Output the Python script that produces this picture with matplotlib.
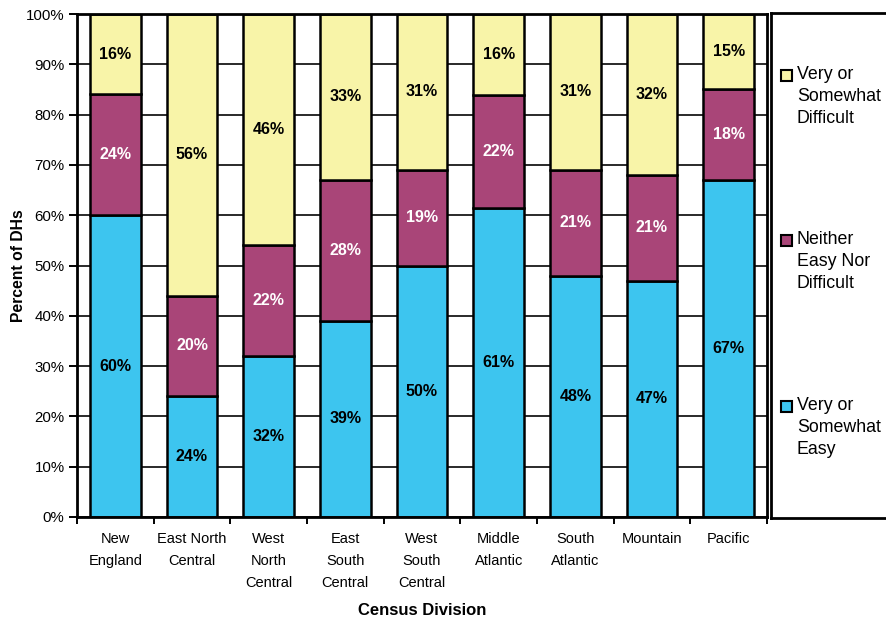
import numpy as np
from matplotlib import pyplot as plt
from matplotlib.patches import Rectangle

divisions = ['New\nEngland', 'East North\nCentral', 'West\nNorth\nCentral', 'East\nSouth\nCentral',
             'West\nSouth\nCentral', 'Middle\nAtlantic', 'South\nAtlantic', 'Mountain', 'Pacific']
easy = [60, 24, 32, 39, 50, 61.4, 48, 47, 67]
neither = [24, 20, 22, 28, 19, 22.4, 21, 21, 18]
difficult = [16, 56, 46, 33, 31, 16.2, 31, 32, 15]

series_names = ['Very or\nSomewhat\nEasy', 'Neither\nEasy Nor\nDifficult', 'Very or\nSomewhat\nDifficult']
colors = ['#3DC5EF', '#A94578', '#F8F4A8']
text_colors = ['black', 'white', 'black']

plt.rcParams['font.family'] = ['Liberation Sans', 'DejaVu Sans']

W, H = 887, 622
fig = plt.figure(figsize=(W / 100, H / 100), dpi=100)
ax = fig.add_axes([77 / W, 1 - 517 / H, 690 / W, 503 / H])

x = np.arange(len(divisions))
width = 0.66
bottom = np.zeros(len(divisions))
for vals, color, tcolor in zip([easy, neither, difficult], colors, text_colors):
    vals = np.array(vals)
    ax.bar(x, vals, width, bottom=bottom, color=color, edgecolor='black', linewidth=1.8, zorder=3)
    for xi, b, v in zip(x, bottom, vals):
        ax.text(xi, b + v / 2, '%d%%' % round(v), ha='center', va='center',
                fontsize=11.5, fontweight='bold', color=tcolor, zorder=4)
    bottom += vals

ax.set_xlim(-0.5, len(divisions) - 0.5)
ax.set_ylim(0, 100)
ax.set_yticks(np.arange(0, 101, 10))
ax.set_yticklabels(['%d%%' % v for v in range(0, 101, 10)], fontsize=10.8)
ax.yaxis.grid(True, color='#2a2a2a', linewidth=1.4, zorder=0)
ax.tick_params(axis='y', length=6, width=1.4, pad=3)

ax.set_xticks(x)
ax.set_xticklabels(divisions, fontsize=10.5, linespacing=1.7, va='top')
ax.set_xticks(np.arange(-0.5, len(divisions), 1), minor=True)
ax.tick_params(axis='x', which='major', length=0, pad=11)
ax.tick_params(axis='x', which='minor', length=5, width=1.4)

for spine in ax.spines.values():
    spine.set_linewidth(2)
    spine.set_zorder(5)

ax.set_ylabel('Percent of DHs', fontsize=11.3, fontweight='bold')
ax.yaxis.set_label_coords(-0.074, 0.5)
ax.set_xlabel('Census Division', fontsize=12, fontweight='bold')
ax.xaxis.set_label_coords(0.5, -0.171)

# boxed legend panel on the right, entries listed top-down from Difficult to Easy
lax = fig.add_axes([771 / W, 1 - 518 / H, 0.14, 505 / H])
lax.set_xticks([])
lax.set_yticks([])
for spine in lax.spines.values():
    spine.set_linewidth(2)

row_tops = [66, 231, 397]
for top, name, color in zip(row_tops, series_names[::-1], colors[::-1]):
    fig.add_artist(Rectangle((781 / W, 1 - (top + 15) / H), 11 / W, 11 / H,
                             facecolor=color, edgecolor='black', linewidth=1.5,
                             transform=fig.transFigure))
    fig.text(797 / W, 1 - top / H, name, ha='left', va='top', fontsize=12.8, linespacing=1.4)

fig.savefig('out.png', dpi=100)
